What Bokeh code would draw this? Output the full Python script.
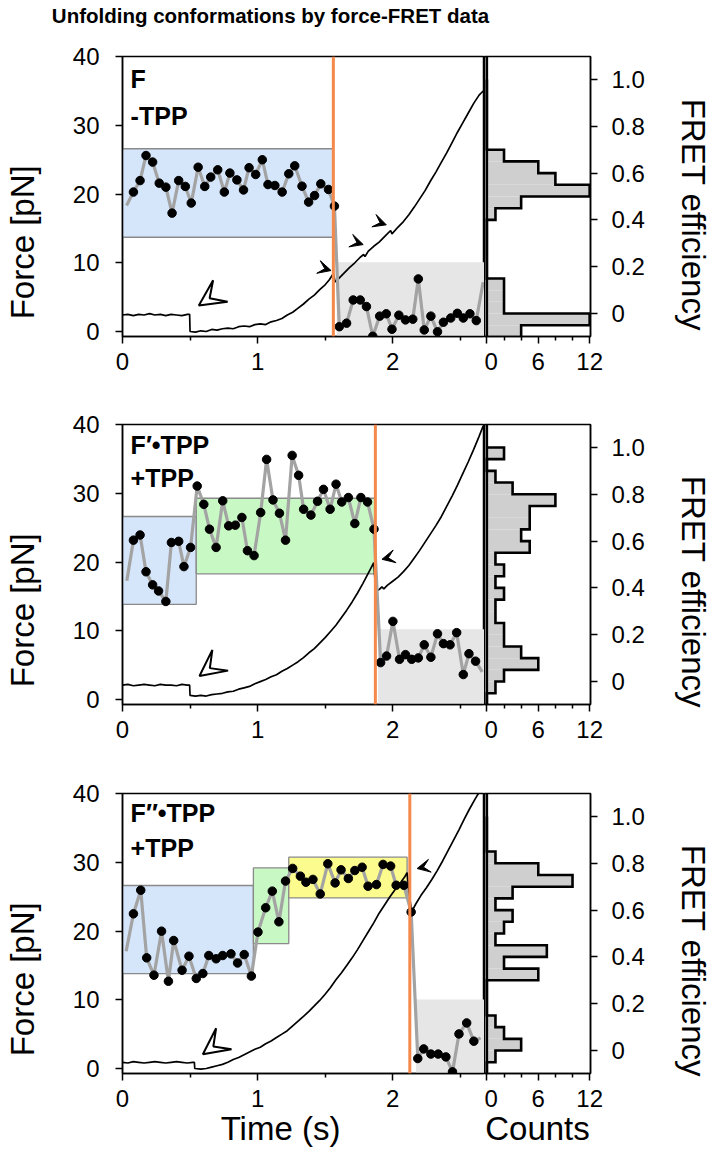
from bokeh.plotting import figure
from bokeh.layouts import column, row
from bokeh.models import Range1d, FixedTicker, Label, Arrow, VeeHead, Span, LinearAxis
from bokeh.embed import file_html
from bokeh.resources import INLINE

# ---------------- data ----------------
TITLE = "Unfolding conformations by force-FRET data"
TIME_TICKS = [0, 1, 2]
TIME_MINOR = [0.5, 1.5, 2.5]
FORCE_TICKS = [0, 10, 20, 30, 40]
FRET_TICKS = [0, 0.2, 0.4, 0.6, 0.8, 1.0]
COUNT_TICKS = [0, 6, 12]
COUNT_MINOR = [2, 4, 8, 10]
FRET_BIN_EDGES = [-0.10, -0.05, 0.00, 0.05, 0.10, 0.15, 0.20, 0.25, 0.30, 0.35, 0.40,
                  0.45, 0.50, 0.55, 0.60, 0.65, 0.70, 0.75, 0.80, 0.85, 0.90, 0.95, 1.00]

panel_names = ["F", "F′•TPP", "F″•TPP"]
panel_ligand = ["-TPP", "+TPP", "+TPP"]
unfold_time = [1.561, 1.872, 2.127]

# panel 1 force trace
p1_force_t = [0.00, 0.04, 0.08, 0.12, 0.16, 0.20, 0.24, 0.28, 0.32, 0.36, 0.40, 0.44, 0.48, 0.497, 0.50,
              0.54, 0.58, 0.62, 0.66, 0.70, 0.74, 0.78, 0.82, 0.86, 0.90, 0.94, 0.98, 1.02, 1.06, 1.10,
              1.14, 1.18, 1.22, 1.26, 1.30, 1.34, 1.38, 1.42, 1.46, 1.50, 1.53, 1.56, 1.575,
              1.60, 1.64, 1.68, 1.72, 1.76, 1.785, 1.795, 1.82, 1.86, 1.90, 1.94, 1.985, 1.995,
              2.04, 2.08, 2.12, 2.16, 2.20, 2.24, 2.28, 2.32, 2.36, 2.40, 2.44, 2.48, 2.52, 2.56,
              2.60, 2.64, 2.67]
p1_force = [2.4, 2.5, 2.3, 2.5, 2.4, 2.6, 2.4, 2.5, 2.3, 2.5, 2.4, 2.3, 2.5, 2.5, 0.0,
            -0.1, 0.1, 0.0, 0.3, 0.2, 0.4, 0.5, 0.4, 0.7, 0.8, 0.7, 1.0, 1.1, 1.0, 1.4,
            1.6, 1.9, 2.4, 2.8, 3.4, 4.0, 4.7, 5.3, 6.1, 6.8, 7.5, 8.4, 7.2,
            7.7, 8.5, 9.3, 10.0, 10.8, 11.2, 10.9, 11.7, 12.4, 13.0, 13.8, 14.7, 14.2,
            15.2, 16.0, 17.0, 18.1, 19.3, 20.5, 21.9, 23.2, 24.6, 26.0, 27.5, 29.0, 30.4, 31.8,
            33.2, 34.4, 35.0]
# panel 1 FRET trace
p1_fret_t = [0.03, 0.081, 0.130, 0.174, 0.223, 0.272, 0.321, 0.367, 0.416, 0.465, 0.509,
             0.560, 0.609, 0.653, 0.705, 0.754, 0.795, 0.847, 0.896, 0.937, 0.986,
             1.035, 1.077, 1.128, 1.182, 1.231, 1.275, 1.329, 1.378, 1.422, 1.468, 1.525, 1.569,
             1.605, 1.659, 1.708, 1.760, 1.806, 1.853, 1.904, 1.953, 1.995, 2.046,
             2.095, 2.149, 2.190, 2.234, 2.283, 2.332, 2.376, 2.430, 2.479, 2.523, 2.572, 2.619, 2.67]
p1_fret = [0.462, 0.519, 0.568, 0.675, 0.647, 0.557, 0.540, 0.429, 0.568, 0.543, 0.472,
           0.625, 0.543, 0.583, 0.614, 0.519, 0.600, 0.571, 0.528, 0.623, 0.594,
           0.657, 0.551, 0.547, 0.519, 0.597, 0.631, 0.544, 0.476, 0.504, 0.554, 0.530, 0.459,
           -0.056, -0.041, 0.058, 0.058, 0.030, -0.097, -0.011, -0.001, -0.067, -0.007,
           -0.027, -0.024, 0.148, -0.070, -0.011, -0.078, -0.037, -0.019, 0.001, -0.019, -0.001, -0.030, 0.134]
p1_counts = [4, 12, 2, 2, 2, 0, 0, 0, 0, 0, 1, 4, 12, 8, 6, 2, 0, 0, 0, 0, 0, 0]
p1_box_state = ["F", "U"]
p1_box_t0 = [0.0, 1.586]
p1_box_t1 = [1.557, 2.80]
p1_box_lo = [0.326, -0.20]
p1_box_hi = [0.704, 0.219]

# panel 2
p2_force_t = [0.00, 0.04, 0.08, 0.12, 0.16, 0.20, 0.24, 0.28, 0.32, 0.36, 0.40, 0.44, 0.48, 0.497, 0.50,
              0.54, 0.58, 0.62, 0.66, 0.70, 0.74, 0.78, 0.82, 0.86, 0.90, 0.94, 0.98, 1.02, 1.06, 1.10,
              1.14, 1.18, 1.22, 1.26, 1.30, 1.34, 1.38, 1.42, 1.46, 1.50,
              1.54, 1.58, 1.62, 1.66, 1.70, 1.74, 1.78, 1.82, 1.86,
              1.875, 1.90, 1.92, 1.935, 1.96,
              2.00, 2.04, 2.08, 2.12, 2.16, 2.20, 2.24, 2.28, 2.32, 2.36, 2.40, 2.44, 2.48, 2.52,
              2.56, 2.60, 2.64, 2.67]
p2_force = [2.1, 2.2, 2.0, 2.1, 2.2, 2.1, 2.0, 2.2, 2.1, 2.1, 2.0, 2.2, 2.1, 2.1, 0.6,
            0.5, 0.6, 0.5, 0.7, 0.8, 0.9, 1.1, 1.2, 1.5, 1.7, 1.9, 2.3, 2.6, 2.9, 3.3,
            3.6, 4.1, 4.5, 5.0, 5.5, 6.1, 6.8, 7.4, 8.2, 9.0,
            9.9, 10.8, 11.9, 13.0, 14.2, 15.5, 16.9, 18.4, 19.9,
            15.8, 16.0, 16.4, 16.1, 16.6,
            17.2, 17.8, 18.6, 19.5, 20.6, 21.7, 22.9, 24.1, 25.3, 26.6, 28.1, 29.6, 31.2, 32.9,
            34.6, 36.4, 38.3, 39.8]
p2_fret_t = [0.032, 0.081, 0.130, 0.174, 0.223, 0.267, 0.321, 0.362, 0.416, 0.455, 0.504,
             0.553, 0.602, 0.644, 0.693, 0.742, 0.786, 0.835, 0.884, 0.925, 0.974,
             1.023, 1.067, 1.114, 1.162, 1.207, 1.256, 1.304, 1.341, 1.395, 1.444,
             1.488, 1.537, 1.581, 1.623, 1.672, 1.720, 1.765, 1.814, 1.862,
             1.911, 1.955, 2.002, 2.051, 2.095, 2.141, 2.190, 2.234, 2.283, 2.332,
             2.376, 2.425, 2.474, 2.523, 2.565, 2.614, 2.663]
p2_fret = [0.431, 0.604, 0.626, 0.469, 0.413, 0.387, 0.342, 0.594, 0.599, 0.491, 0.573,
           0.835, 0.757, 0.651, 0.573, 0.772, 0.665, 0.668, 0.701, 0.559, 0.538,
           0.722, 0.949, 0.776, 0.719, 0.604, 0.966, 0.881, 0.736, 0.711, 0.770,
           0.821, 0.736, 0.843, 0.767, 0.786, 0.675, 0.786, 0.767, 0.651,
           0.081, 0.109, 0.257, 0.095, 0.115, 0.095, 0.101, 0.157, 0.104, 0.204,
           0.162, 0.157, 0.209, 0.030, 0.119, 0.087, 0.041]
p2_counts = [0, 1, 2, 6, 4, 2, 2, 1, 1, 2, 1, 2, 1, 5, 4, 5, 5, 8, 3, 1, 0, 2]
p2_box_state = ["F", "F1", "U"]
p2_box_t0 = [0.0, 0.546, 1.892]
p2_box_t1 = [0.546, 1.867, 2.80]
p2_box_lo = [0.330, 0.460, -0.20]
p2_box_hi = [0.705, 0.783, 0.223]

# panel 3
p3_force_t = [0.00, 0.04, 0.08, 0.12, 0.16, 0.20, 0.24, 0.28, 0.32, 0.36, 0.40, 0.44, 0.48, 0.52,
              0.532, 0.535,
              0.58, 0.62, 0.66, 0.70, 0.74, 0.78, 0.82, 0.86, 0.90, 0.94, 0.98, 1.02, 1.06, 1.10,
              1.14, 1.18, 1.22, 1.26, 1.30, 1.34, 1.38, 1.42, 1.46, 1.50, 1.54, 1.58, 1.62, 1.66,
              1.70, 1.74, 1.78, 1.82, 1.86, 1.90, 1.94, 1.98, 2.02, 2.06,
              2.09, 2.107, 2.125, 2.141, 2.17, 2.21, 2.25, 2.29, 2.33, 2.37, 2.41, 2.45, 2.49,
              2.53, 2.57, 2.61, 2.65, 2.67]
p3_force = [0.9, 0.8, 1.0, 0.9, 0.8, 0.9, 1.0, 0.9, 0.8, 0.9, 1.0, 0.9, 0.8, 0.9,
            0.9, 0.0,
            -0.1, 0.0, 0.2, 0.4, 0.6, 0.9, 1.3, 1.6, 2.0, 2.4, 2.8, 3.1, 3.6, 4.0,
            4.5, 5.0, 5.5, 6.2, 6.9, 7.6, 8.3, 9.1, 9.9, 10.8, 11.8, 12.9, 13.9, 15.0,
            16.1, 17.3, 18.6, 19.9, 21.2, 22.6, 23.8, 25.0, 26.1, 27.1,
            27.9, 28.5, 25.0, 22.8, 23.9, 25.2, 26.3, 27.5, 28.8, 30.2, 31.7, 33.2, 34.7,
            36.3, 37.8, 39.2, 40.5, 41.2]
p3_fret_t = [0.027, 0.081, 0.135, 0.179, 0.233, 0.289, 0.340, 0.379, 0.441, 0.492, 0.546,
             0.595, 0.639, 0.693, 0.742, 0.803, 0.852, 0.901, 0.954, 1.003, 1.060,
             1.109, 1.158, 1.207, 1.260, 1.317, 1.358, 1.410, 1.464, 1.520, 1.574,
             1.618, 1.672, 1.720, 1.774, 1.818, 1.880, 1.929, 1.985, 2.026, 2.083, 2.137,
             2.186, 2.230, 2.283, 2.337, 2.394, 2.443, 2.491, 2.548, 2.601, 2.651]
p3_fret = [0.424, 0.584, 0.685, 0.396, 0.322, 0.510, 0.296, 0.470, 0.343, 0.403, 0.308,
           0.329, 0.406, 0.392, 0.406, 0.413, 0.374, 0.410, 0.318, 0.506, 0.610,
           0.681, 0.550, 0.724, 0.778, 0.745, 0.719, 0.731, 0.669, 0.798, 0.716,
           0.772, 0.735, 0.769, 0.783, 0.702, 0.709, 0.795, 0.788, 0.706, 0.706, 0.592,
           -0.034, 0.007, -0.015, -0.015, -0.027, -0.091, 0.071, 0.118, 0.040, 0.054]
p3_counts = [0, 1, 4, 2, 1, 0, 0, 0, 6, 2, 7, 1, 2, 3, 1, 3, 10, 6, 1, 0, 0, 0]
p3_box_state = ["F", "F1", "F2", "U"]
p3_box_t0 = [0.0, 0.969, 1.231, 2.173]
p3_box_t1 = [0.969, 1.231, 2.107, 2.80]
p3_box_lo = [0.329, 0.457, 0.652, -0.20]
p3_box_hi = [0.705, 0.780, 0.826, 0.218]

# annotation arrow positions (time, force): tail -> tip
open_arrow_tail = [(0.741, 6.11), (0.729, 5.79), (0.760, 4.47)]
open_arrow_tip = [(0.565, 3.78), (0.570, 3.42), (0.595, 2.08)]
small_arrow_tail = [[(1.439, 9.45), (1.672, 13.33), (1.843, 16.25)],
                    [(2.026, 20.88)],
                    [(2.284, 29.54)]]
small_arrow_tip = [[(1.544, 8.87), (1.782, 12.65), (1.953, 15.52)],
                   [(1.921, 20.40)],
                   [(2.181, 29.10)]]
# panel label baselines (force units)
name_label_y = [36.8, 37.1, 37.2]
ligand_label_y = [31.4, 32.2, 32.1]

# axis titles; non-breaking spaces shift the (frame-centred) titles off-centre as in the source
NBSP = "\u00a0"
FORCE_TITLE = "Force [pN]" + NBSP * 10
FRET_TITLES = [NBSP * 4 + "FRET efficiency", NBSP * 6 + "FRET efficiency", NBSP * 6 + "FRET efficiency"]
TIME_TITLE = "Time (s)" + NBSP * 5
COUNTS_TITLE = "Counts"

# ---------------- style ----------------
FONT = "Liberation Sans"
STATE_FILL = {"F": "#d5e5fa", "F1": "#c8f8c4", "F2": "#fcfc8e", "U": "#e6e6e6"}
STATE_LINE = {"F": "#8a8a8a", "F1": "#8a8a8a", "F2": "#8a8a8a", "U": None}
ORANGE = "#f4894b"
FORCE_RANGE = (-0.73, 40.02)
FRET_RANGE = (-0.098, 1.098)
TIME_RANGE = (0.0, 2.68)
COUNT_RANGE = (-0.28, 12.1)
ROW_TOP = [16, 48, 49]
ROW_BOTTOM = [40, 40, 83]
FRAME_H = 280
LEFT_BORDER = 119
LEFT_FRAME = 365
HIST_FRAME = 109
RIGHT_BORDER = 121
TITLE_H = 40


def style_axis(ax):
    ax.axis_line_width = 1.5
    ax.axis_line_color = "black"
    ax.major_tick_line_width = 1.5
    ax.minor_tick_line_width = 1.5
    ax.major_tick_in = 0
    ax.major_tick_out = 7
    ax.minor_tick_in = 0
    ax.minor_tick_out = 4
    ax.major_label_text_font = FONT
    ax.major_label_text_font_size = "24px"
    ax.major_label_text_color = "black"


def title_axis(text, standoff, **kw):
    """An axis carrying only a title."""
    return LinearAxis(axis_label=text, ticker=FixedTicker(ticks=[]),
                      axis_line_color=None, major_tick_line_color=None,
                      minor_tick_line_color=None, major_tick_out=0, minor_tick_out=0,
                      major_label_standoff=0, axis_label_standoff=standoff,
                      axis_label_text_font=FONT, axis_label_text_font_size="33px",
                      axis_label_text_font_style="normal", axis_label_text_color="black", **kw)


def step_outline(edges, counts):
    xs, ys = [0], [edges[0]]
    for i, c in enumerate(counts):
        xs += [c, c]
        ys += [edges[i], edges[i + 1]]
    xs.append(0)
    ys.append(edges[-1])
    return xs, ys


panels = [
    dict(ft=p1_force_t, f=p1_force, rt=p1_fret_t, r=p1_fret, c=p1_counts,
         bs=p1_box_state, b0=p1_box_t0, b1=p1_box_t1, blo=p1_box_lo, bhi=p1_box_hi),
    dict(ft=p2_force_t, f=p2_force, rt=p2_fret_t, r=p2_fret, c=p2_counts,
         bs=p2_box_state, b0=p2_box_t0, b1=p2_box_t1, blo=p2_box_lo, bhi=p2_box_hi),
    dict(ft=p3_force_t, f=p3_force, rt=p3_fret_t, r=p3_fret, c=p3_counts,
         bs=p3_box_state, b0=p3_box_t0, b1=p3_box_t1, blo=p3_box_lo, bhi=p3_box_hi),
]

rows = []
for i, d in enumerate(panels):
    last = (i == 2)
    h = ROW_TOP[i] + FRAME_H + ROW_BOTTOM[i]
    lf = figure(width=LEFT_BORDER + LEFT_FRAME, height=h,
                x_range=Range1d(*TIME_RANGE), y_range=Range1d(*FORCE_RANGE),
                output_backend="svg", toolbar_location=None,
                min_border_left=LEFT_BORDER, min_border_right=0,
                min_border_top=ROW_TOP[i], min_border_bottom=ROW_BOTTOM[i])
    lf.extra_y_ranges = {"fret": Range1d(*FRET_RANGE)}
    lf.grid.visible = False
    lf.outline_line_color = "black"
    lf.outline_line_width = 1.5

    # state boxes (FRET units)
    lf.quad(left=d["b0"], right=d["b1"], bottom=d["blo"], top=d["bhi"],
            fill_color=[STATE_FILL[s] for s in d["bs"]],
            line_color=[STATE_LINE[s] for s in d["bs"]], line_width=1.3,
            y_range_name="fret")
    lf.add_layout(Span(location=unfold_time[i], dimension="height",
                       line_color=ORANGE, line_width=3))
    # force trace
    lf.line(d["ft"], d["f"], line_color="black", line_width=1.7)
    # FRET trace
    lf.line(d["rt"], d["r"], line_color="#a3a3a3", line_width=3.2, y_range_name="fret")
    lf.scatter(d["rt"][1:-1], d["r"][1:-1], size=8.5, marker="circle",
               fill_color="black", line_color="black", y_range_name="fret")

    # arrows
    (xs0, ys0), (xe0, ye0) = open_arrow_tail[i], open_arrow_tip[i]
    lf.add_layout(Arrow(end=VeeHead(size=26, fill_color="white", line_color="black", line_width=2),
                        x_start=xs0, y_start=ys0, x_end=xe0, y_end=ye0, line_alpha=0.0))
    for (xs1, ys1), (xe1, ye1) in zip(small_arrow_tail[i], small_arrow_tip[i]):
        lf.add_layout(Arrow(end=VeeHead(size=13, fill_color="black", line_color="black", line_width=1),
                            x_start=xs1, y_start=ys1, x_end=xe1, y_end=ye1, line_alpha=0.0))

    # panel labels
    lf.add_layout(Label(x=0.06, y=name_label_y[i], text=panel_names[i], text_font=FONT,
                        text_baseline="alphabetic",
                        text_font_style="bold", text_font_size="25px", text_color="black"))
    lf.add_layout(Label(x=0.06, y=ligand_label_y[i], text=panel_ligand[i], text_font=FONT,
                        text_baseline="alphabetic",
                        text_font_style="bold", text_font_size="25px", text_color="black"))

    lf.xaxis.ticker = FixedTicker(ticks=TIME_TICKS, minor_ticks=TIME_MINOR)
    lf.yaxis.ticker = FixedTicker(ticks=FORCE_TICKS, minor_ticks=[])
    for ax in lf.xaxis + lf.yaxis:
        style_axis(ax)
    lf.xaxis.major_label_standoff = 9
    lf.yaxis.major_label_standoff = 16
    lf.add_layout(title_axis(FORCE_TITLE, 29), "left")
    if last:
        lf.add_layout(title_axis(TIME_TITLE, 0), "below")

    # histogram
    hf = figure(width=HIST_FRAME + RIGHT_BORDER, height=h,
                x_range=Range1d(*COUNT_RANGE), y_range=Range1d(*FRET_RANGE),
                y_axis_location="right", output_backend="svg", toolbar_location=None,
                min_border_left=0, min_border_right=RIGHT_BORDER,
                min_border_top=ROW_TOP[i], min_border_bottom=ROW_BOTTOM[i])
    hf.grid.visible = False
    hf.outline_line_color = "black"
    hf.outline_line_width = 1.5
    hf.quad(left=0, right=d["c"], bottom=FRET_BIN_EDGES[:-1], top=FRET_BIN_EDGES[1:],
            fill_color="#cfcfcf", line_color=None)
    sx, sy = step_outline(FRET_BIN_EDGES, d["c"])
    hf.line(sx, sy, line_color="black", line_width=2.6, line_join="miter")
    hf.add_layout(Span(location=0, dimension="height", line_color="black", line_width=2.5))
    hf.xaxis.ticker = FixedTicker(ticks=COUNT_TICKS, minor_ticks=COUNT_MINOR)
    hf.yaxis.ticker = FixedTicker(ticks=FRET_TICKS, minor_ticks=[])
    hf.yaxis.major_label_overrides = {0: "0", 0.2: "0.2", 0.4: "0.4", 0.6: "0.6", 0.8: "0.8", 1.0: "1.0"}
    for ax in hf.xaxis + hf.yaxis:
        style_axis(ax)
    hf.xaxis.major_label_standoff = 9
    hf.yaxis.major_label_standoff = 14
    hf.add_layout(title_axis(FRET_TITLES[i], 27), "right")
    if last:
        hf.add_layout(title_axis(COUNTS_TITLE, 0), "below")
    rows.append(row(lf, hf))

# title strip
TOTAL_W = LEFT_BORDER + LEFT_FRAME + HIST_FRAME + RIGHT_BORDER
tf = figure(width=TOTAL_W, height=TITLE_H,
            x_range=Range1d(0, TOTAL_W), y_range=Range1d(0, TITLE_H),
            output_backend="svg", toolbar_location=None, x_axis_location=None,
            y_axis_location=None, min_border=0)
tf.outline_line_color = None
tf.grid.visible = False
tf.add_layout(Label(x=270, y=TITLE_H - 15, text=TITLE, text_align="center",
                    text_baseline="alphabetic", text_font=FONT,
                    text_font_style="bold", text_font_size="20.5px", text_color="black"))

layout = column(tf, *rows)
open("out.html", "w").write(file_html(layout, INLINE))
